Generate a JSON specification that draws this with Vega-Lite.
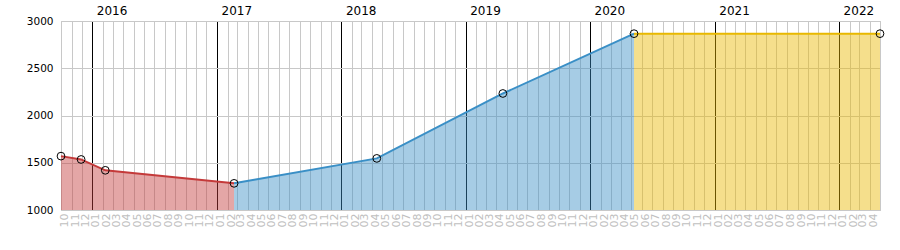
{
  "$schema": "https://vega.github.io/schema/vega-lite/v6.json",
  "width": 819,
  "height": 189,
  "autosize": {"type": "none"},
  "padding": {"left": 61, "top": 21, "right": 20, "bottom": 40},
  "config": {"view": {"stroke": "#c0c0c0"}, "font": "DejaVu Sans"},
  "datasets": {
    "series": [
      {"date": "2015-10-01T00:00:00", "value": 1570, "series": "a"},
      {"date": "2015-11-29T00:00:00", "value": 1535, "series": "a"},
      {"date": "2016-02-08T00:00:00", "value": 1420, "series": "a"},
      {"date": "2017-02-20T00:00:00", "value": 1282, "series": "a"},
      {"date": "2017-02-20T00:00:00", "value": 1282, "series": "b"},
      {"date": "2018-04-15T00:00:00", "value": 1546, "series": "b"},
      {"date": "2019-04-20T00:00:00", "value": 2233, "series": "b"},
      {"date": "2020-05-09T00:00:00", "value": 2866, "series": "b"},
      {"date": "2020-05-09T00:00:00", "value": 2866, "series": "c"},
      {"date": "2022-05-01T00:00:00", "value": 2866, "series": "c"}
    ],
    "points": [
      {"date": "2015-10-01T00:00:00", "value": 1570},
      {"date": "2015-11-29T00:00:00", "value": 1535},
      {"date": "2016-02-08T00:00:00", "value": 1420},
      {"date": "2017-02-20T00:00:00", "value": 1282},
      {"date": "2018-04-15T00:00:00", "value": 1546},
      {"date": "2019-04-20T00:00:00", "value": 2233},
      {"date": "2020-05-09T00:00:00", "value": 2866},
      {"date": "2022-05-01T00:00:00", "value": 2866}
    ]
  },
  "resolve": {"axis": {"x": "independent"}},
  "layer": [
    {
      "data": {"name": "series"},
      "mark": {"type": "area", "fillOpacity": 0.45, "strokeWidth": 0},
      "encoding": {
        "x": {
          "field": "date", "type": "temporal",
          "scale": {"domain": [{"year": 2015, "month": 10, "date": 1}, {"year": 2022, "month": 5, "date": 1}]},
          "axis": {
            "orient": "bottom", "title": null,
            "tickCount": {"interval": "month", "step": 1},
            "labelExpr": "time(datum.value) >= time(datetime(2022,4,1)) ? '' : timeFormat(datum.value, '%m')",
            "labelAngle": -90, "labelOverlap": false, "labelFlush": false,
            "labelOffset": 3.5, "labelPadding": 3, "labelFontSize": 11, "labelColor": "#c0c0c0",
            "ticks": false, "domain": false,
            "grid": true,
            "gridColor": {"condition": {"test": "month(datum.value) == 0", "value": "#000000"}, "value": "#c8c8c8"}
          }
        },
        "y": {
          "field": "value", "type": "quantitative",
          "scale": {"domain": [1000, 3000], "nice": false, "zero": false},
          "axis": {
            "title": null, "values": [1000, 1500, 2000, 2500, 3000], "format": "d",
            "ticks": false, "domain": false, "labelPadding": 8, "labelFontSize": 10.5,
            "labelColor": "#000000", "gridColor": "#c8c8c8"
          }
        },
        "y2": {"datum": 1000},
        "color": {
          "field": "series", "type": "nominal", "legend": null,
          "scale": {"domain": ["a", "b", "c"], "range": ["#c43a3a", "#3a8fc6", "#e8b800"]}
        }
      }
    },
    {
      "data": {"name": "series"},
      "mark": {"type": "line", "strokeWidth": 2},
      "encoding": {
        "x": {"field": "date", "type": "temporal", "axis": null},
        "y": {"field": "value", "type": "quantitative"},
        "color": {"field": "series", "type": "nominal", "legend": null}
      }
    },
    {
      "data": {"name": "points"},
      "mark": {"type": "point", "shape": "circle", "filled": false, "stroke": "#000000", "strokeWidth": 1, "size": 60, "opacity": 1},
      "encoding": {
        "x": {
          "field": "date", "type": "temporal",
          "axis": {
            "orient": "top", "title": null,
            "tickCount": {"interval": "year", "step": 1}, "format": "%Y",
            "grid": false, "ticks": false, "domain": false,
            "labelAlign": "left", "labelOffset": 4, "labelPadding": 4, "labelFlush": false,
            "labelFontSize": 12, "labelFontWeight": "normal", "labelColor": "#000000"
          }
        },
        "y": {"field": "value", "type": "quantitative"}
      }
    }
  ]
}
